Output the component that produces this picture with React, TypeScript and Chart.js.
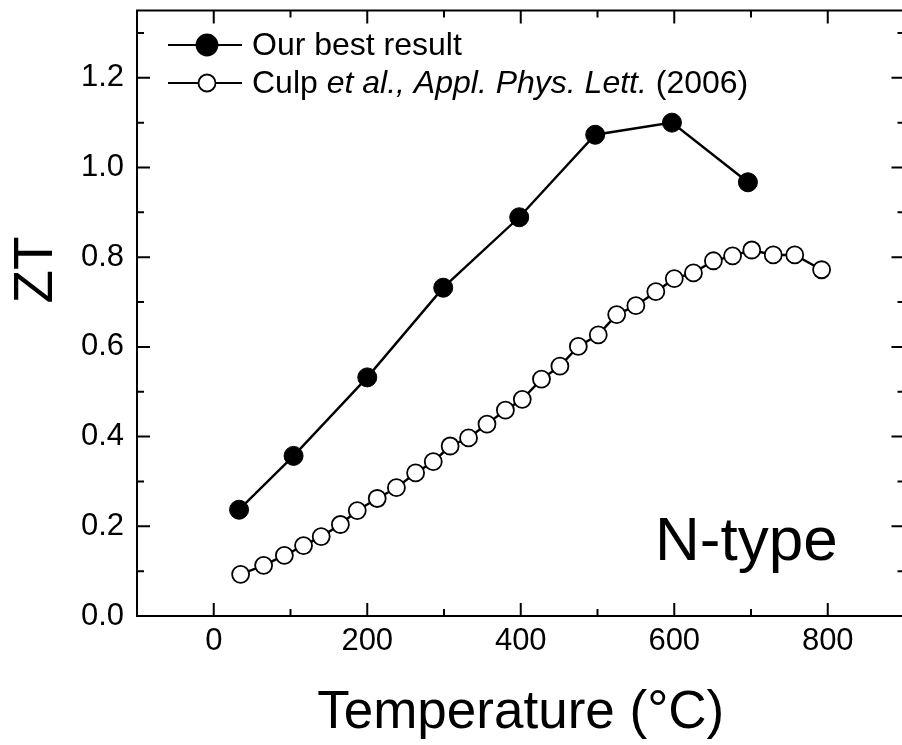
import React, { useEffect, useRef } from "react";
import { Chart, registerables } from "chart.js";

Chart.register(...registerables);

const tempBest = [33, 104, 200, 299, 398, 497, 597, 696];
const ztBest = [0.237, 0.357, 0.532, 0.732, 0.889, 1.073, 1.1, 0.967];

const tempCulp = [35, 65, 92, 117, 140, 165, 187, 213, 238, 263, 286, 308, 332, 356, 380, 402, 427, 451, 475, 501, 525, 550, 576, 600, 625, 651, 676, 701, 729, 757, 792];
const ztCulp = [0.093, 0.113, 0.135, 0.157, 0.177, 0.204, 0.235, 0.262, 0.286, 0.319, 0.344, 0.379, 0.397, 0.428, 0.459, 0.483, 0.528, 0.557, 0.601, 0.627, 0.672, 0.692, 0.723, 0.752, 0.765, 0.792, 0.803, 0.816, 0.805, 0.805, 0.772];

const xTickValues = [0, 200, 400, 600, 800];
const xMinorValues = [100, 300, 500, 700];
const yTickValues = [0, 0.2, 0.4, 0.6, 0.8, 1.0, 1.2];
const yMinorValues = [0.1, 0.3, 0.5, 0.7, 0.9, 1.1, 1.3];

const xTitle = "Temperature (°C)";
const yTitle = "ZT";
const annotation = "N-type";
const legendBest = "Our best result";
const legendCulp = ["Culp ", "et al., Appl. Phys. Lett.", " (2006)"];

const FONT = "'Liberation Sans', Arial, sans-serif";

const overlay = {
  id: "overlay",
  beforeDatasetsDraw(chart: any) {
    const { ctx, chartArea, scales } = chart;
    const { left, right, top, bottom } = chartArea;
    ctx.save();
    ctx.strokeStyle = "#000";
    ctx.lineWidth = 2;
    ctx.strokeRect(left, top, right - left, bottom - top);
    const drawX = (vals: number[], len: number) => {
      vals.forEach((v) => {
        const px = scales.x.getPixelForValue(v);
        ctx.beginPath();
        ctx.moveTo(px, bottom);
        ctx.lineTo(px, bottom - len);
        ctx.moveTo(px, top);
        ctx.lineTo(px, top + len);
        ctx.stroke();
      });
    };
    const drawY = (vals: number[], len: number) => {
      vals.forEach((v) => {
        const py = scales.y.getPixelForValue(v);
        ctx.beginPath();
        ctx.moveTo(left, py);
        ctx.lineTo(left + len, py);
        ctx.moveTo(right, py);
        ctx.lineTo(right - len, py);
        ctx.stroke();
      });
    };
    drawX(xTickValues, 13);
    drawX(xMinorValues, 7);
    drawY(yTickValues, 13);
    drawY(yMinorValues, 7);
    ctx.restore();
  },
  afterDraw(chart: any) {
    const { ctx } = chart;
    ctx.save();
    ctx.fillStyle = "#000";
    ctx.strokeStyle = "#000";

    // Y title (rotated)
    ctx.save();
    ctx.translate(52, 270);
    ctx.rotate(-Math.PI / 2);
    ctx.font = `55px ${FONT}`;
    ctx.textAlign = "center";
    ctx.textBaseline = "alphabetic";
    ctx.fillText(yTitle, 0, 0);
    ctx.restore();

    // N-type annotation
    ctx.font = `62px ${FONT}`;
    ctx.textAlign = "left";
    ctx.textBaseline = "alphabetic";
    ctx.fillText(annotation, 655, 560);

    // Legend
    const rows = [45, 83];
    rows.forEach((ry, i) => {
      ctx.lineWidth = 2.2;
      ctx.beginPath();
      ctx.moveTo(168, ry);
      ctx.lineTo(242, ry);
      ctx.stroke();
      ctx.beginPath();
      ctx.arc(207, ry, i === 0 ? 10.5 : 8.5, 0, Math.PI * 2);
      ctx.fillStyle = i === 0 ? "#000" : "#fff";
      ctx.fill();
      ctx.lineWidth = 1.8;
      ctx.stroke();
    });
    ctx.fillStyle = "#000";
    ctx.textBaseline = "middle";
    ctx.textAlign = "left";
    ctx.font = `32px ${FONT}`;
    ctx.fillText(legendBest, 252, rows[0] + 1);
    let tx = 252;
    legendCulp.forEach((part, i) => {
      ctx.font = i === 1 ? `italic 32px ${FONT}` : `32px ${FONT}`;
      ctx.fillText(part, tx, rows[1] + 1);
      tx += ctx.measureText(part).width;
    });
    ctx.restore();
  },
};

export default function App() {
  const ref = useRef<HTMLCanvasElement | null>(null);
  useEffect(() => {
    if (!ref.current) return;
    const chart = new Chart(ref.current, {
      type: "line",
      data: {
        datasets: [
          {
            label: legendBest,
            data: tempBest.map((t, i) => ({ x: t, y: ztBest[i] })),
            borderColor: "#000",
            borderWidth: 2.4,
            pointRadius: 9.5,
            pointBackgroundColor: "#000",
            pointBorderColor: "#000",
            pointBorderWidth: 1,
            tension: 0,
          },
          {
            label: "Culp et al.",
            data: tempCulp.map((t, i) => ({ x: t, y: ztCulp[i] })),
            borderColor: "#000",
            borderWidth: 2.4,
            pointRadius: 8.5,
            pointBackgroundColor: "#fff",
            pointBorderColor: "#000",
            pointBorderWidth: 1.8,
            tension: 0,
          },
        ],
      },
      options: {
        responsive: false,
        animation: false,
        layout: { padding: { left: 0, top: 7, right: 10, bottom: 0 } },
        plugins: { legend: { display: false }, tooltip: { enabled: false } },
        scales: {
          x: {
            type: "linear",
            min: -100,
            max: 900,
            grid: { display: false, drawTicks: false },
            border: { display: false },
            afterBuildTicks: (s: any) => {
              s.ticks = xTickValues.map((v) => ({ value: v }));
            },
            afterFit: (s: any) => {
              s.height = 129;
              s.paddingLeft = 0;
              s.paddingRight = 0;
            },
            ticks: {
              padding: 7,
              color: "#000",
              font: { family: FONT, size: 31, lineHeight: 1.2 },
              maxRotation: 0,
              callback: (v: any) => String(v),
            },
            title: {
              display: true,
              text: xTitle,
              color: "#000",
              font: { family: FONT, size: 53, lineHeight: 1.2 },
              padding: 0,
            },
          },
          y: {
            type: "linear",
            min: 0,
            max: 1.35,
            grid: { display: false, drawTicks: false },
            border: { display: false },
            afterBuildTicks: (s: any) => {
              s.ticks = yTickValues.map((v) => ({ value: v }));
            },
            afterFit: (s: any) => {
              s.width = 137;
              s.paddingTop = 0;
              s.paddingBottom = 0;
            },
            ticks: {
              padding: 13,
              color: "#000",
              font: { family: FONT, size: 31, lineHeight: 1.2 },
              callback: (v: any) => Number(v).toFixed(1),
            },
          },
        },
      },
      plugins: [overlay],
    });
    return () => chart.destroy();
  }, []);
  return (
    <div
      style={{
        position: "fixed",
        left: 0,
        top: 0,
        width: 902,
        height: 745,
        overflow: "hidden",
        background: "#fff",
      }}
    >
      <canvas ref={ref} width={915} height={745} style={{ display: "block" }} />
    </div>
  );
}
